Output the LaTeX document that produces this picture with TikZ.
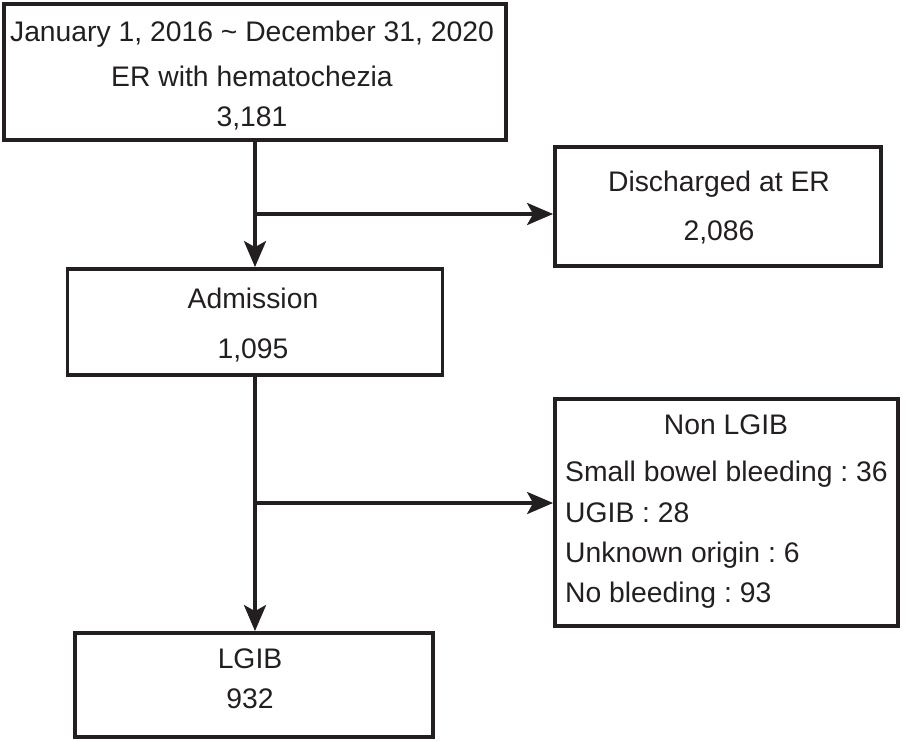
\documentclass[tikz,border=0pt]{standalone}
\usepackage{fontspec}
\setmainfont{Liberation Sans}
\usetikzlibrary{arrows.meta}
\definecolor{ink}{RGB}{35,31,32}
\frenchspacing
\begin{document}
\begin{tikzpicture}[x=1pt,y=-1pt,
  boxn/.style={draw=ink,line width=3.8pt,rectangle,inner sep=0pt,fill=none},
  conn/.style={draw=ink,line width=3.6pt,-{Stealth[length=26pt,width=22pt,inset=6pt]}},
  txt/.style={anchor=base,inner sep=0pt,text=ink,font=\fontsize{28.3}{34}\selectfont\frenchspacing},
  ltxt/.style={txt,anchor=base west}]
\useasboundingbox (0,0) rectangle (912,741);
% boxes
\node[boxn,minimum width=502pt,minimum height=136pt] (b1) at (255,72) {};
\node[boxn,minimum width=326pt,minimum height=119pt] (dis) at (718,206.5) {};
\node[boxn,minimum width=375pt,minimum height=106pt] (adm) at (255,322) {};
\node[boxn,minimum width=343pt,minimum height=227pt] (non) at (726.5,512.5) {};
\node[boxn,minimum width=358pt,minimum height=104pt] (lgib) at (254,685) {};
% texts
\node[txt] (t1a) at (252,42) {January 1, 2016 \char"007E{} December 31, 2020};
\node[txt] (t1b) at (252,87) {ER with hematochezia};
\node[txt] (t1c) at (252,127) {3,181};
\node[txt] (t2a) at (719,191) {Discharged at ER};
\node[txt] (t2b) at (719,240) {2,086};
\node[txt] (t3a) at (253,308) {Admission};
\node[txt] (t3b) at (253,358) {1,095};
\node[txt] (t4a) at (726,434) {Non LGIB};
\node[ltxt] (t4b) at (565,481) {Small bowel bleeding : 36};
\node[ltxt] (t4c) at (565,522) {UGIB : 28};
\node[ltxt] (t4d) at (565,562) {Unknown origin : 6};
\node[ltxt] (t4e) at (565,602) {No bleeding : 93};
\node[txt] (t5a) at (250,668) {LGIB};
\node[txt] (t5b) at (250,708) {932};
% connectors
\coordinate (j1) at (255,214);
\coordinate (j2) at (255,503);
\draw[conn] (b1.south) -- (adm.north);
\draw[conn] (j1) -- (j1 -| dis.west);
\draw[conn] (adm.south) -- (adm.south |- lgib.north);
\draw[conn] (j2) -- (j2 -| non.west);
\end{tikzpicture}
\end{document}
